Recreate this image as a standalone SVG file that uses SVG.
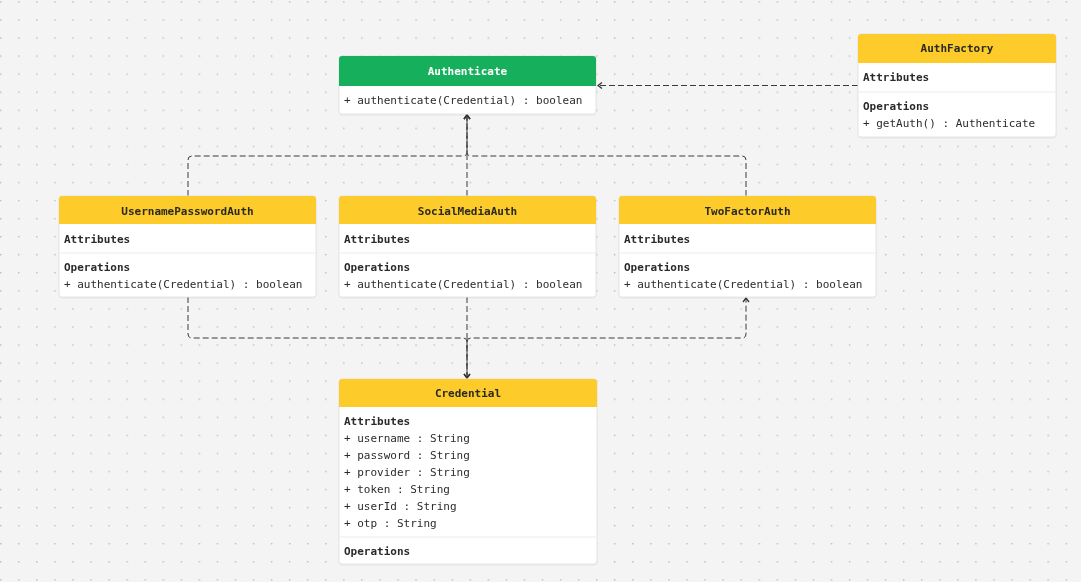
<svg xmlns="http://www.w3.org/2000/svg" width="1081" height="582" viewBox="0 0 1081 582">
  <defs>
    <pattern id="dots" x="0" y="1.2" width="18.06" height="18.06" patternUnits="userSpaceOnUse">
      <rect x="0" y="0" width="1.4" height="1.4" fill="#bcbcbc"/>
    </pattern>
    <marker id="arrow" viewBox="0 0 10 10" refX="9" refY="5" markerWidth="10" markerHeight="10" markerUnits="userSpaceOnUse" orient="auto">
      <polyline points="5,2 9,5 5,8" fill="none" stroke="#333" stroke-width="1.3"/>
    </marker>
    <filter id="shadow" x="-5%" y="-5%" width="110%" height="115%">
      <feDropShadow dx="0" dy="0.5" stdDeviation="0.6" flood-color="#000" flood-opacity="0.12"/>
    </filter>
  </defs>
  <style>
    .box { fill: #ffffff; stroke: #e6e6e6; stroke-width: 1; }
    .head-y { fill: #fdcb2b; }
    .head-g { fill: #18af5c; }
    .div { stroke: #ececec; stroke-width: 1; }
    text { font-family: "DejaVu Sans Mono", "Liberation Mono", monospace; font-size: 11px; fill: #2b2b2b; }
    .title { font-weight: bold; text-anchor: middle; fill: #2a2a22; }
    .title-w { font-weight: bold; text-anchor: middle; fill: #ffffff; }
    .sec { font-weight: bold; }
    .edge { fill: none; stroke: #3a3a3a; stroke-width: 1; stroke-dasharray: 6 3; }
  </style>

  <rect width="1081" height="582" fill="#f4f4f4"/>
  <rect width="1081" height="582" fill="url(#dots)"/>

  <!-- connectors -->
  <g id="connectors">
    <path class="edge" d="M858,85.5 H598" marker-end="url(#arrow)"/>
    <path class="edge" d="M188,196 V160 Q188,156 192,156 H463 Q467,156 467,152 V115" marker-end="url(#arrow)"/>
    <path class="edge" d="M467,196 V115" marker-end="url(#arrow)"/>
    <path class="edge" d="M746,196 V160 Q746,156 742,156 H471 Q467,156 467,152 V115" marker-end="url(#arrow)"/>
    <path class="edge" d="M188,297 V334 Q188,338 192,338 H463 Q467,338 467,342 V378" marker-end="url(#arrow)"/>
    <path class="edge" d="M467,297 V378" marker-end="url(#arrow)"/>
    <path class="edge" d="M467,378 V342 Q467,338 471,338 H742 Q746,338 746,334 V298" marker-end="url(#arrow)"/>
  </g>

  <!-- Authenticate -->
  <g id="node-authenticate" filter="url(#shadow)">
    <rect class="box" x="339" y="56" width="257" height="58" rx="3"/>
    <path class="head-g" d="M342,56 H593 Q596,56 596,59 V86 H339 V59 Q339,56 342,56 Z"/>
    <text class="title-w" x="467.5" y="75">Authenticate</text>
    <text x="344" y="104">+ authenticate(Credential) : boolean</text>
  </g>

  <!-- AuthFactory -->
  <g id="node-authfactory" filter="url(#shadow)">
    <rect class="box" x="858" y="34" width="198" height="103" rx="3"/>
    <path class="head-y" d="M861,34 H1053 Q1056,34 1056,37 V63 H858 V37 Q858,34 861,34 Z"/>
    <text class="title" x="957" y="52">AuthFactory</text>
    <text class="sec" x="863" y="81">Attributes</text>
    <line class="div" x1="858.5" y1="92" x2="1055.5" y2="92"/>
    <text class="sec" x="863" y="110">Operations</text>
    <text x="863" y="127">+ getAuth() : Authenticate</text>
  </g>

  <!-- UsernamePasswordAuth -->
  <g id="node-usernamepasswordauth" filter="url(#shadow)">
    <rect class="box" x="59" y="196" width="257" height="101" rx="3"/>
    <path class="head-y" d="M62,196 H313 Q316,196 316,199 V224 H59 V199 Q59,196 62,196 Z"/>
    <text class="title" x="187.5" y="215">UsernamePasswordAuth</text>
    <text class="sec" x="64" y="243">Attributes</text>
    <line class="div" x1="59.5" y1="253" x2="315.5" y2="253"/>
    <text class="sec" x="64" y="271">Operations</text>
    <text x="64" y="288">+ authenticate(Credential) : boolean</text>
  </g>

  <!-- SocialMediaAuth -->
  <g id="node-socialmediaauth" filter="url(#shadow)">
    <rect class="box" x="339" y="196" width="257" height="101" rx="3"/>
    <path class="head-y" d="M342,196 H593 Q596,196 596,199 V224 H339 V199 Q339,196 342,196 Z"/>
    <text class="title" x="467.5" y="215">SocialMediaAuth</text>
    <text class="sec" x="344" y="243">Attributes</text>
    <line class="div" x1="339.5" y1="253" x2="595.5" y2="253"/>
    <text class="sec" x="344" y="271">Operations</text>
    <text x="344" y="288">+ authenticate(Credential) : boolean</text>
  </g>

  <!-- TwoFactorAuth -->
  <g id="node-twofactorauth" filter="url(#shadow)">
    <rect class="box" x="619" y="196" width="257" height="101" rx="3"/>
    <path class="head-y" d="M622,196 H873 Q876,196 876,199 V224 H619 V199 Q619,196 622,196 Z"/>
    <text class="title" x="747.5" y="215">TwoFactorAuth</text>
    <text class="sec" x="624" y="243">Attributes</text>
    <line class="div" x1="619.5" y1="253" x2="875.5" y2="253"/>
    <text class="sec" x="624" y="271">Operations</text>
    <text x="624" y="288">+ authenticate(Credential) : boolean</text>
  </g>

  <!-- Credential -->
  <g id="node-credential" filter="url(#shadow)">
    <rect class="box" x="339" y="379" width="258" height="185" rx="3"/>
    <path class="head-y" d="M342,379 H594 Q597,379 597,382 V407 H339 V382 Q339,379 342,379 Z"/>
    <text class="title" x="468" y="397">Credential</text>
    <text class="sec" x="344" y="425">Attributes</text>
    <text x="344" y="442">+ username : String</text>
    <text x="344" y="459">+ password : String</text>
    <text x="344" y="476">+ provider : String</text>
    <text x="344" y="493">+ token : String</text>
    <text x="344" y="510">+ userId : String</text>
    <text x="344" y="527">+ otp : String</text>
    <line class="div" x1="339.5" y1="537" x2="596.5" y2="537"/>
    <text class="sec" x="344" y="555">Operations</text>
  </g>
</svg>
